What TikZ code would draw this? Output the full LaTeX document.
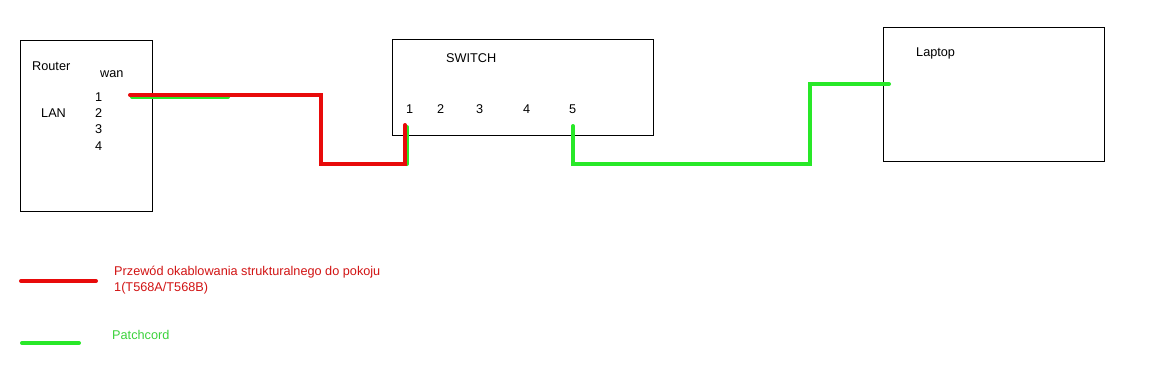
\documentclass[tikz,border=0pt]{standalone}
\usepackage{fontspec}
\setmainfont{Liberation Sans}
\definecolor{cablered}{RGB}{232,10,10}
\definecolor{cablegreen}{RGB}{40,232,40}
\definecolor{textred}{RGB}{210,20,20}
\definecolor{textgreen}{RGB}{60,210,60}
\begin{document}
\begin{tikzpicture}[x=1pt,y=-1pt,
  box/.style={draw=black,line width=1pt},
  lbl/.style={inner sep=0pt,anchor=base west,font=\fontsize{12.7}{14}\selectfont},
  redcable/.style={draw=cablered,line width=4pt,line cap=round,line join=miter},
  greencable/.style={draw=cablegreen,line width=4pt,line cap=round,line join=miter}]
\useasboundingbox[fill=white] (0,0) rectangle (1150,376);
% boxes
\draw[box] (20,40) rectangle (152,211);
\draw[box] (392,39) rectangle (653,135);
\draw[box] (883,27) rectangle (1104,161);
% router texts
\node[lbl] (router) at (32,70) {Router};
\node[lbl] (wan) at (100,77) {wan};
\node[lbl] (lan) at (41,117) {LAN};
\node[lbl] (r1) at (95,101) {1};
\node[lbl] (r2) at (95,117) {2};
\node[lbl] (r3) at (95,133) {3};
\node[lbl] (r4) at (95,150) {4};
% switch texts
\node[lbl] (sw) at (446,62) {SWITCH};
\node[lbl] (s1) at (406,113) {1};
\node[lbl] (s2) at (437,113) {2};
\node[lbl] (s3) at (476,113) {3};
\node[lbl] (s4) at (523,113) {4};
\node[lbl] (s5) at (569,113) {5};
% laptop
\node[lbl] (laptop) at (916,56) {Laptop};
% cable endpoints
\coordinate (wanport) at (130,95);
\coordinate (sw1port) at (405,125);
\coordinate (sw5port) at (573,126);
\coordinate (lapport) at (889,84);
% green under red
\draw[greencable] (132,97) -- (228,97);
\draw[greencable] (407,127) -- (407,164);
\draw[redcable] (wanport) -- (321,95) -- (321,164) -- (405,164) -- (sw1port);
\draw[greencable] (sw5port) -- (573,164) -- (810,164) -- (810,84) -- (lapport);
% legend
\coordinate (la) at (21,281); \coordinate (lb) at (96,281);
\draw[redcable] (la) -- (lb);
\node[lbl,text=textred] (leg1a) at (114,275) {Przewód okablowania strukturalnego do pokoju};
\node[lbl,text=textred] (leg1b) at (114,291) {1(T568A/T568B)};
\coordinate (lc) at (22,343); \coordinate (ld) at (79,343);
\draw[greencable] (lc) -- (ld);
\node[lbl,text=textgreen] (leg2) at (112,339) {Patchcord};
\end{tikzpicture}
\end{document}
